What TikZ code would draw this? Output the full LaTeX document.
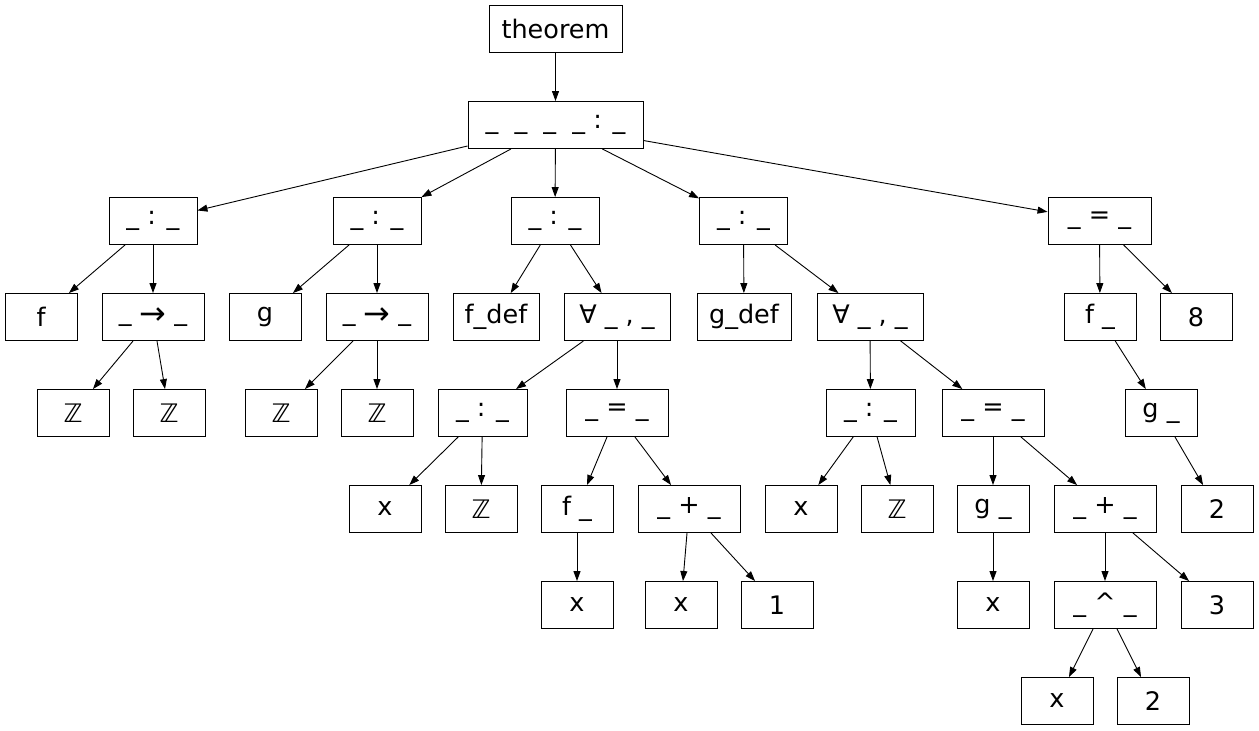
\documentclass[tikz,border=0pt]{standalone}
\usepackage{fontspec}
\usepackage{graphicx}
\setmainfont{DejaVu Sans}
\usetikzlibrary{arrows.meta}
\newcommand{\maparr}{\raisebox{-4pt}{\scalebox{1.25}{→}}}
\tikzset{
  tn/.style={rectangle, draw=black, line width=0.9pt, minimum width=#1,
             minimum height=47pt, inner sep=0pt,
             font=\fontsize{25.5}{30}\selectfont},
  tn/.default=72pt,
  ed/.style={-{Triangle[length=10pt,width=7pt]}, line width=0.9pt},
}

\begin{document}
\begin{tikzpicture}[x=1pt,y=-1pt]
  \useasboundingbox (0,0) rectangle (1259,731);

  % top
  \node[tn=133pt] (thm) at (555.5,28.5) {theorem};
  \node[tn=175pt] (top) at (555.5,125) {\_~~\_~~\_~~\_ : \_};

  % row 2
  \node[tn=88pt]  (cf)  at (153,221)    {\_ : \_};
  \node[tn=88pt]  (cg)  at (377,221)    {\_ : \_};
  \node[tn=88pt]  (cfd) at (555,221)    {\_ : \_};
  \node[tn=88pt]  (cgd) at (743.5,221)  {\_ : \_};
  \node[tn=103pt] (ceq) at (1099.5,221) {\_ = \_};

  % row 3
  \node[tn]       (f)     at (41,317)   {f};
  \node[tn=102pt] (arrf)  at (153,317)  {\_ \maparr{} \_};
  \node[tn]       (g)     at (265,317)  {g};
  \node[tn=102pt] (arrg)  at (377,317)  {\_ \maparr{} \_};
  \node[tn=86pt]  (fdef)  at (496,317)  {f\_def};
  \node[tn=106pt] (allf)  at (617,317)  {∀ \_ , \_};
  \node[tn=94pt]  (gdef)  at (744,317)  {g\_def};
  \node[tn=106pt] (allg)  at (870,317)  {∀ \_ , \_};
  \node[tn]       (fa)    at (1100,317) {f \_};
  \node[tn]       (eight) at (1196,317) {8};

  % row 4
  \node[tn]       (zfa)  at (73,413)    {ℤ};
  \node[tn]       (zfb)  at (169,413)   {ℤ};
  \node[tn]       (zga)  at (281,413)   {ℤ};
  \node[tn]       (zgb)  at (377,413)   {ℤ};
  \node[tn=89pt]  (colf) at (482.5,413) {\_ : \_};
  \node[tn=102pt] (eqf)  at (617,413)   {\_ = \_};
  \node[tn=89pt]  (colg) at (870.5,413) {\_ : \_};
  \node[tn=102pt] (eqg)  at (993,413)   {\_ = \_};
  \node[tn]       (ga)   at (1161,413)  {g \_};

  % row 5
  \node[tn]       (xf)    at (385,509)  {x};
  \node[tn]       (zf)    at (481,509)  {ℤ};
  \node[tn]       (fx)    at (577,509)  {f \_};
  \node[tn=102pt] (plusf) at (689,509)  {\_ + \_};
  \node[tn]       (xg)    at (801,509)  {x};
  \node[tn]       (zg)    at (897,509)  {ℤ};
  \node[tn]       (gx)    at (993,509)  {g \_};
  \node[tn=102pt] (plusg) at (1105,509) {\_ + \_};
  \node[tn]       (two)   at (1217,509) {2};

  % row 6
  \node[tn]       (xfa)   at (577,605)  {x};
  \node[tn]       (xfb)   at (681,605)  {x};
  \node[tn]       (one)   at (777,605)  {1};
  \node[tn]       (xga)   at (993,605)  {x};
  \node[tn=102pt] (hat)   at (1105,605) {\_ \textasciicircum{} \_};
  \node[tn]       (three) at (1217,605) {3};

  % row 7
  \node[tn]       (xh)   at (1057,701)  {x};
  \node[tn]       (twoh) at (1153,701)  {2};

  % edges
  \draw[ed] (thm) -- (top);
  \foreach \c in {cf,cg,cfd,cgd,ceq}
    \draw[ed] (top) -- (\c);
  \draw[ed] (cf) -- (f);
  \draw[ed] (cf) -- (arrf);
  \draw[ed] (arrf) -- (zfa);
  \draw[ed] (arrf) -- (zfb);
  \draw[ed] (cg) -- (g);
  \draw[ed] (cg) -- (arrg);
  \draw[ed] (arrg) -- (zga);
  \draw[ed] (arrg) -- (zgb);
  \draw[ed] (cfd) -- (fdef);
  \draw[ed] (cfd) -- (allf);
  \draw[ed] (allf) -- (colf);
  \draw[ed] (allf) -- (eqf);
  \draw[ed] (colf) -- (xf);
  \draw[ed] (colf) -- (zf);
  \draw[ed] (eqf) -- (fx);
  \draw[ed] (eqf) -- (plusf);
  \draw[ed] (fx) -- (xfa);
  \draw[ed] (plusf) -- (xfb);
  \draw[ed] (plusf) -- (one);
  \draw[ed] (cgd) -- (gdef);
  \draw[ed] (cgd) -- (allg);
  \draw[ed] (allg) -- (colg);
  \draw[ed] (allg) -- (eqg);
  \draw[ed] (colg) -- (xg);
  \draw[ed] (colg) -- (zg);
  \draw[ed] (eqg) -- (gx);
  \draw[ed] (eqg) -- (plusg);
  \draw[ed] (gx) -- (xga);
  \draw[ed] (plusg) -- (hat);
  \draw[ed] (plusg) -- (three);
  \draw[ed] (hat) -- (xh);
  \draw[ed] (hat) -- (twoh);
  \draw[ed] (ceq) -- (fa);
  \draw[ed] (ceq) -- (eight);
  \draw[ed] (fa) -- (ga);
  \draw[ed] (ga) -- (two);
\end{tikzpicture}
\end{document}
